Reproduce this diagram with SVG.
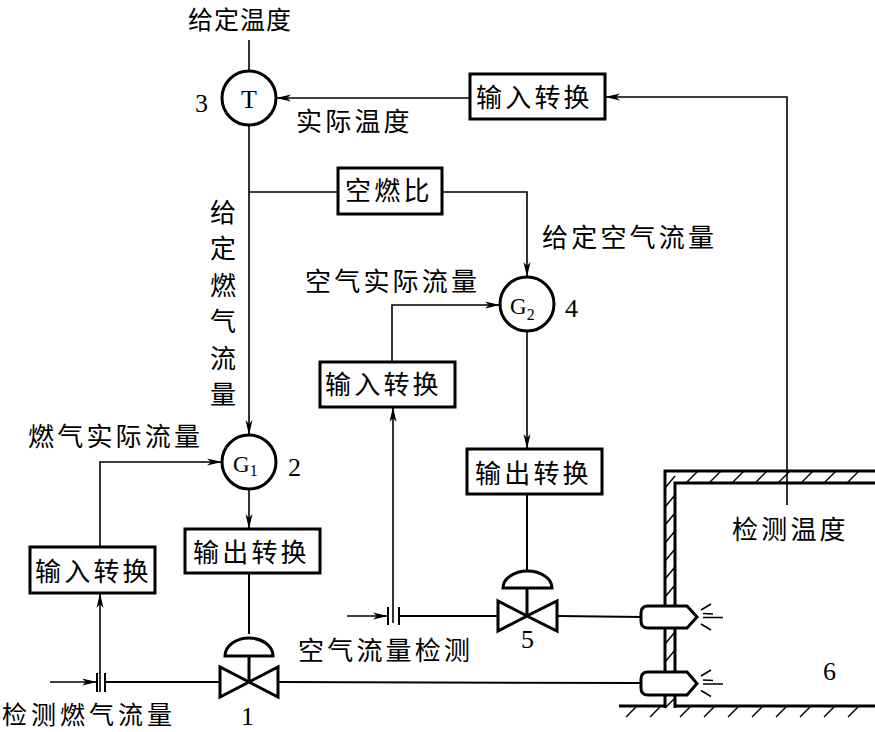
<svg xmlns="http://www.w3.org/2000/svg" width="875" height="732" viewBox="0 0 875 732">
<style>
.cn{font-family:"Noto Sans CJK SC",sans-serif;font-size:26px;letter-spacing:3.2px;fill:#000}
.num{font-family:"Liberation Serif",serif;font-size:26px;fill:#000}
.box{fill:#fff;stroke:#000;stroke-width:3}
.circ{fill:#fff;stroke:#000;stroke-width:3}
.ln{fill:none;stroke:#000;stroke-width:1.6}
.pipe{fill:none;stroke:#000;stroke-width:2}
.thick{fill:none;stroke:#000;stroke-width:3}
.valve{fill:#fff;stroke:#000;stroke-width:3;stroke-linejoin:miter}
.hatch{stroke:#000;stroke-width:1.5}
.arr{marker-end:url(#ah)}
</style>
<defs>
<marker id="ah" markerUnits="userSpaceOnUse" markerWidth="16" markerHeight="9" refX="15" refY="4.5" orient="auto">
<path d="M0,1 L15,4.5 L0,8 L4,4.5 Z" fill="#000"/>
</marker>
</defs>
<rect width="875" height="732" fill="#fff"/>

<g id="connectors">
<path class="ln" d="M249,40 L249,71"/>
<path class="ln arr" d="M787,505 L787,97 L605,97"/>
<path class="ln arr" d="M470,98 L276,98"/>
<path class="ln arr" d="M249,125 L249,435"/>
<path class="ln" d="M249,192 L338,192"/>
<path class="ln arr" d="M442,192 L527,192 L527,277"/>
<path class="ln arr" d="M392,362 L392,305 L500,305"/>
<path class="ln arr" d="M527,332 L527,449"/>
<path class="pipe" d="M527,494 L527,571"/>
<path class="ln arr" d="M393,623 L393,407"/>
<path class="ln arr" d="M100,547 L100,462 L222,462"/>
<path class="ln arr" d="M249,490 L249,529"/>
<path class="pipe" d="M249,573 L249,634"/>
<path class="ln arr" d="M100,692 L100,593"/>
<path class="ln arr" d="M347,616 L388,616"/>
<path class="ln arr" d="M50,682 L97,682"/>
<path class="pipe" d="M399,616 L498,616"/>
<path class="pipe" d="M557,616 L642,617"/>
<path class="pipe" d="M105,682 L220,682"/>
<path class="pipe" d="M278,682 L642,683"/>
</g>

<g id="orifice-air">
<path class="pipe" d="M388,607 L388,625 M399,607 L399,625"/>
</g>
<g id="orifice-gas">
<path class="pipe" d="M97,673 L97,692 M105,673 L105,692"/>
</g>

<g id="furnace">
<path class="thick" d="M665,708 L665,471 L875,471"/>
<path class="thick" d="M675,708 L675,483 L875,483"/>
<path class="thick" d="M619,706 L665,706 M675,706 L875,706"/>
<g class="hatch">
<line x1="686" y1="483" x2="698" y2="471"/>
<line x1="709" y1="483" x2="721" y2="471"/>
<line x1="732" y1="483" x2="744" y2="471"/>
<line x1="755" y1="483" x2="767" y2="471"/>
<line x1="778" y1="483" x2="790" y2="471"/>
<line x1="801" y1="483" x2="813" y2="471"/>
<line x1="824" y1="483" x2="836" y2="471"/>
<line x1="847" y1="483" x2="859" y2="471"/>
<line x1="665" y1="488" x2="675" y2="476"/>
<line x1="665" y1="507" x2="675" y2="495"/>
<line x1="665" y1="525" x2="675" y2="513"/>
<line x1="665" y1="543" x2="675" y2="531"/>
<line x1="665" y1="561" x2="675" y2="549"/>
<line x1="665" y1="579" x2="675" y2="567"/>
<line x1="665" y1="597" x2="675" y2="585"/>
<line x1="665" y1="644" x2="675" y2="632"/>
<line x1="665" y1="662" x2="675" y2="650"/>
<line x1="665" y1="708" x2="675" y2="698"/>
<line x1="626" y1="717" x2="636" y2="707"/>
<line x1="650" y1="717" x2="660" y2="707"/>
<line x1="680" y1="717" x2="690" y2="707"/>
<line x1="704" y1="717" x2="714" y2="707"/>
<line x1="728" y1="717" x2="738" y2="707"/>
<line x1="752" y1="717" x2="762" y2="707"/>
<line x1="776" y1="717" x2="786" y2="707"/>
<line x1="800" y1="717" x2="810" y2="707"/>
<line x1="824" y1="717" x2="834" y2="707"/>
<line x1="848" y1="717" x2="858" y2="707"/>
</g>
<text class="num" x="823" y="680">6</text>
</g>

<g id="burner-air">
<path class="valve" d="M648,606 L687,606 L697,617 L687,628 L648,628 Q641,628 641,621 L641,613 Q641,606 648,606 Z"/>
<path class="hatch" d="M701,610 L711,604 M703,613.5 L713,614 M703,617.5 L723,617.5 M701,624 L711,630"/>
</g>
<g id="burner-gas">
<path class="valve" d="M648,672 L687,672 L697,683.5 L687,695 L648,695 Q641,695 641,688 L641,679 Q641,672 648,672 Z"/>
<path class="hatch" d="M701,676 L711,670 M703,680 L713,680.5 M703,684 L723,684 M701,690.5 L711,696.5"/>
</g>

<g id="label-top"><text class="cn" x="188" y="29" style="font-size:25px;letter-spacing:1px">给定温度</text></g>

<g id="T">
<circle class="circ" cx="249" cy="98" r="27"/>
<text class="num" x="249" y="108" text-anchor="middle">T</text>
<text class="num" x="195" y="112">3</text>
</g>
<g id="label-actual-temp"><text class="cn" x="296" y="131">实际温度</text></g>

<g id="input-top">
<rect class="box" x="470" y="74" width="135" height="45"/>
<text class="cn" x="476" y="107">输入转换</text>
</g>

<g id="ratio">
<rect class="box" x="338" y="168" width="104" height="46"/>
<text class="cn" x="345" y="200">空燃比</text>
</g>

<g id="label-gas-set">
<text class="cn" x="210" y="222">给</text>
<text class="cn" x="210" y="258">定</text>
<text class="cn" x="210" y="295">燃</text>
<text class="cn" x="210" y="331">气</text>
<text class="cn" x="210" y="368">流</text>
<text class="cn" x="210" y="404">量</text>
</g>
<g id="label-air-set"><text class="cn" x="542" y="247">给定空气流量</text></g>
<g id="label-air-actual"><text class="cn" x="305" y="291">空气实际流量</text></g>

<g id="G2">
<circle class="circ" cx="527" cy="304" r="27"/>
<text class="num" x="510" y="314" style="font-size:23px">G<tspan dy="6" style="font-size:16px">2</tspan></text>
<text class="num" x="565" y="317">4</text>
</g>

<g id="input-air">
<rect class="box" x="320" y="362" width="135" height="45"/>
<text class="cn" x="325" y="394">输入转换</text>
</g>

<g id="label-gas-actual"><text class="cn" x="28" y="446">燃气实际流量</text></g>

<g id="G1">
<circle class="circ" cx="249" cy="462" r="27"/>
<text class="num" x="233" y="472" style="font-size:23px">G<tspan dy="4" style="font-size:16px">1</tspan></text>
<text class="num" x="288" y="476">2</text>
</g>

<g id="output-air">
<rect class="box" x="467" y="449" width="135" height="45"/>
<text class="cn" x="475" y="483">输出转换</text>
</g>

<g id="label-temp-detect"><text class="cn" x="732" y="539">检测温度</text></g>

<g id="output-gas">
<rect class="box" x="185" y="529" width="135" height="44"/>
<text class="cn" x="193" y="562">输出转换</text>
</g>

<g id="input-gas">
<rect class="box" x="30" y="547" width="125" height="46"/>
<text class="cn" x="35" y="581">输入转换</text>
</g>

<g id="valve-5">
<path class="valve" d="M503,588 A24.5,17 0 0 1 552,588 Z"/>
<path class="pipe" d="M527,588 L527,616" style="stroke-width:3"/>
<path class="valve" d="M498,601 L498,631 L527,616 Z M557,601 L557,631 L527,616 Z"/>
<text class="num" x="521" y="648">5</text>
</g>
<g id="label-air-detect"><text class="cn" x="298" y="660">空气流量检测</text></g>

<g id="valve-1">
<path class="valve" d="M225,656 A24,18 0 0 1 273,656 Z"/>
<path class="pipe" d="M249,656 L249,682" style="stroke-width:3"/>
<path class="valve" d="M220,667 L220,697 L249,682 Z M278,667 L278,697 L249,682 Z"/>
<text class="num" x="241" y="725">1</text>
</g>
<g id="label-gas-detect"><text class="cn" x="2" y="724" style="font-size:25px;letter-spacing:4px">检测燃气流量</text></g>
</svg>
